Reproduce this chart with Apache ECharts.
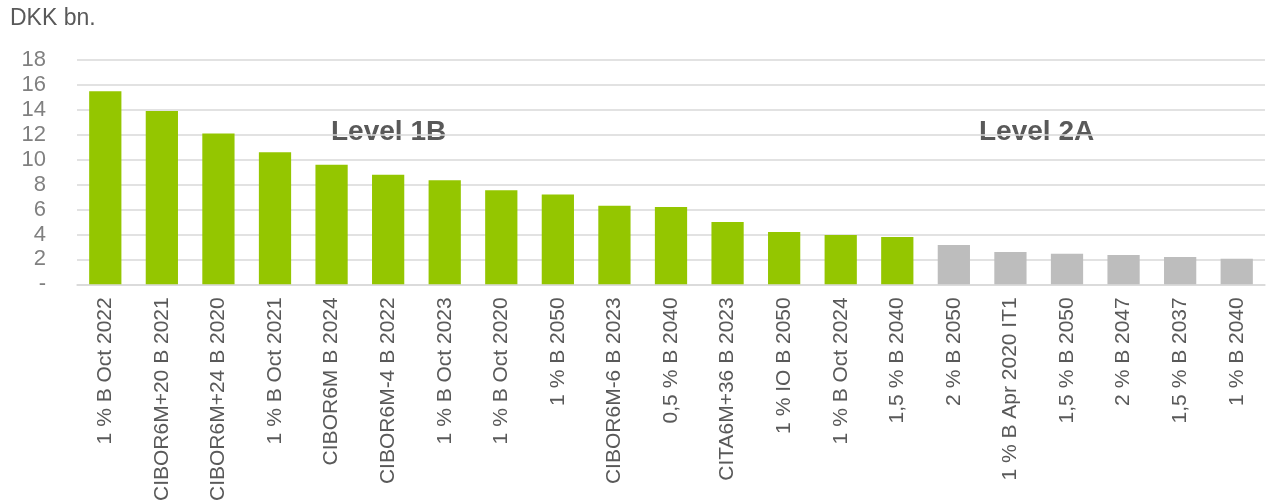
<!DOCTYPE html>
<html>
<head>
<meta charset="utf-8">
<script src="https://cdn.jsdelivr.net/npm/echarts@6/dist/echarts.min.js"></script>
<style>
  html, body { margin: 0; padding: 0; background: #fff; }
  #main { width: 1271px; height: 504px; }
</style>
</head>
<body>
<div id="main"></div>
<script>
// data
var categories = ['1 % B Oct 2022', 'CIBOR6M+20 B 2021', 'CIBOR6M+24 B 2020', '1 % B Oct 2021',
    'CIBOR6M B 2024', 'CIBOR6M-4 B 2022', '1 % B Oct 2023', '1 % B Oct 2020', '1 % B 2050',
    'CIBOR6M-6 B 2023', '0,5 % B 2040', 'CITA6M+36 B 2023', '1 % IO B 2050', '1 % B Oct 2024',
    '1,5 % B 2040', '2 % B 2050', '1 % B Apr 2020 IT1', '1,5 % B 2050', '2 % B 2047',
    '1,5 % B 2037', '1 % B 2040'];
var values = [15.5, 13.9, 12.1, 10.6, 9.6, 8.8, 8.35, 7.55, 7.2, 6.3, 6.2, 5.0, 4.2, 3.95, 3.8,
    3.15, 2.6, 2.45, 2.35, 2.2, 2.05];
var levels = ['1B', '1B', '1B', '1B', '1B', '1B', '1B', '1B', '1B', '1B', '1B', '1B', '1B', '1B', '1B',
    '2A', '2A', '2A', '2A', '2A', '2A'];
var levelColors = { '1B': '#94C600', '2A': '#BDBDBD' };
var yTicks = [0, 2, 4, 6, 8, 10, 12, 14, 16, 18];

var myChart = echarts.init(document.getElementById('main'));

var barData = values.map(function (v, i) {
    return { value: v, itemStyle: { color: levelColors[levels[i]] } };
});

var option = {
    backgroundColor: '#FFFFFF',
    animation: false,
    textStyle: { fontFamily: 'Liberation Sans, Arial, sans-serif' },
    grid: { left: 77, right: 6, top: 60, bottom: 219, containLabel: false },
    xAxis: {
        type: 'category',
        data: categories,
        axisLine: { show: true, lineStyle: { color: '#D9D9D9', width: 1.5 } },
        axisTick: { show: false },
        axisLabel: {
            rotate: 90,
            interval: 0,
            margin: 13,
            color: '#595959',
            fontSize: 21
        }
    },
    yAxis: {
        type: 'value',
        min: yTicks[0],
        max: yTicks[yTicks.length - 1],
        interval: 2,
        axisLine: { show: false },
        axisTick: { show: false },
        splitLine: { lineStyle: { color: '#D9D9D9', width: 1.5 } },
        axisLabel: {
            margin: 31,
            color: '#808080',
            fontSize: 22,
            formatter: function (v) { return v === 0 ? '-' : v; }
        }
    },
    graphic: [
        { type: 'text', left: 10, top: 7,
          style: { text: 'DKK bn.', fill: '#595959', font: '23px Liberation Sans, Arial, sans-serif' } },
        { type: 'text', left: 331, top: 118, z: -1,
          style: { text: 'Level 1B', fill: '#595959', font: 'bold 28px Liberation Sans, Arial, sans-serif' } },
        { type: 'text', left: 979, top: 118, z: -1,
          style: { text: 'Level 2A', fill: '#595959', font: 'bold 28px Liberation Sans, Arial, sans-serif' } }
    ],
    series: [{
        name: 'DKK bn.',
        type: 'bar',
        barWidth: '57%',
        data: barData
    }]
};

myChart.setOption(option);
</script>
</body>
</html>
